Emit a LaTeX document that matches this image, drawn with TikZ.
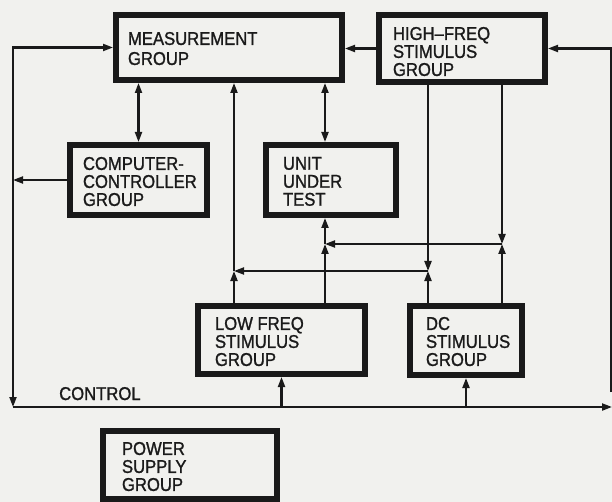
\documentclass[tikz,border=0pt]{standalone}
\usepackage{fontspec}
\setmainfont{Liberation Sans}[FakeStretch=0.9,FakeBold=1.2]
\usetikzlibrary{arrows.meta}
\definecolor{paper}{HTML}{F1F1EE}
\definecolor{ink}{HTML}{1A1A1A}
% box text: width, height, left gap, top gap, lines
\newcommand{\grptxt}[5]{\parbox[c][#2pt][t]{#1pt}{\vspace*{#4pt}\raggedright\leftskip=#3pt\relax #5}}

\begin{document}
\begin{tikzpicture}[x=1pt,y=-1pt,font=\fontsize{18.5}{18}\selectfont]
    % Styles
    \tikzset{
      grp/.style={draw=ink,line width=6pt,inner sep=0pt,anchor=north west,text=ink},
      flow/.style={draw=ink,line width=2.1pt,-{Triangle[length=10pt,width=7pt]}},
      both/.style={draw=ink,line width=2.1pt,{Triangle[length=10pt,width=7pt]}-{Triangle[length=10pt,width=7pt]}}
    }

    % --- Paper ---
    \fill[paper] (0,0) rectangle (612,502);
    \useasboundingbox (0,0) rectangle (612,502);

    % --- Group boxes ---
    \node[grp,font=\fontsize{18.5}{20}\selectfont] (meas) at (113,12) {\grptxt{226}{65}{12}{17}{MEASUREMENT\\GROUP}};
    \node[grp] (hf)   at (376,12)  {\grptxt{166}{67}{14}{12}{HIGH–FREQ\\STIMULUS\\GROUP}};
    \node[grp] (cc)   at (67,142)  {\grptxt{137}{70}{13}{12}{COMPUTER-\\CONTROLLER\\GROUP}};
    \node[grp] (uut)  at (263,142) {\grptxt{130}{70}{17}{12}{UNIT\\UNDER\\TEST}};
    \node[grp] (lf)   at (195,303) {\grptxt{167}{68}{17}{11}{LOW FREQ\\STIMULUS\\GROUP}};
    \node[grp] (dc)   at (407,303) {\grptxt{112}{69}{16}{11}{DC\\STIMULUS\\GROUP}};
    \node[grp] (ps)   at (100,428) {\grptxt{174}{68}{19}{11}{POWER\\SUPPLY\\GROUP}};

    % --- Rails and bus ends ---
    \coordinate (xa) at (234,0);
    \coordinate (xb) at (325,0);
    \coordinate (xc) at (428,0);
    \coordinate (xd) at (502,0);
    \coordinate (ya) at (0,271);
    \coordinate (yb) at (0,244);
    \coordinate (ctl) at (13,407);
    \coordinate (ctr) at (612,407);
    \coordinate (rfeed) at (611,392);

    % --- Top row ---
    \draw[flow] (hf.west) -- (hf.west -| meas.east);
    \draw[flow] (rfeed) |- (hf.east);

    % --- Computer-controller and left line ---
    \draw[both] (meas.south -| cc.north) -- (cc.north);
    \draw[flow] (cc.west) -- (cc.west -| ctl);
    \draw[flow] (cc.west -| ctl) |- (meas.west);
    \draw[flow] (cc.west -| ctl) -- (ctl);

    % --- Unit under test ---
    \draw[both] (meas.south -| xb) -- (uut.north -| xb);

    % --- Low freq outputs ---
    \draw[flow] (lf.north -| xa) -- (xa |- ya);
    \draw[flow] (xa |- ya) -- (meas.south -| xa);
    \draw[flow] (lf.north -| xb) -- (xb |- yb);
    \draw[flow] (xb |- yb) -- (uut.south -| xb);

    % --- High freq and dc outputs ---
    \draw[flow] (hf.south -| xc) -- (xc |- ya);
    \draw[flow] (dc.north -| xc) -- (xc |- ya);
    \draw[flow] (xc |- ya) -- (xa |- ya);
    \draw[flow] (hf.south -| xd) -- (xd |- yb);
    \draw[flow] (dc.north -| xd) -- (xd |- yb);
    \draw[flow] (xd |- yb) -- (xb |- yb);

    % --- Control bus ---
    \draw[flow] (ctl) -- (ctr);
    \draw[flow] (lf.south |- ctl) -- (lf.south);
    \draw[flow] (dc.south |- ctl) -- (dc.south);
    \node[anchor=base west,inner sep=0pt,text=ink] (ctllbl) at (59,400) {CONTROL};

  \end{tikzpicture}
\end{document}
